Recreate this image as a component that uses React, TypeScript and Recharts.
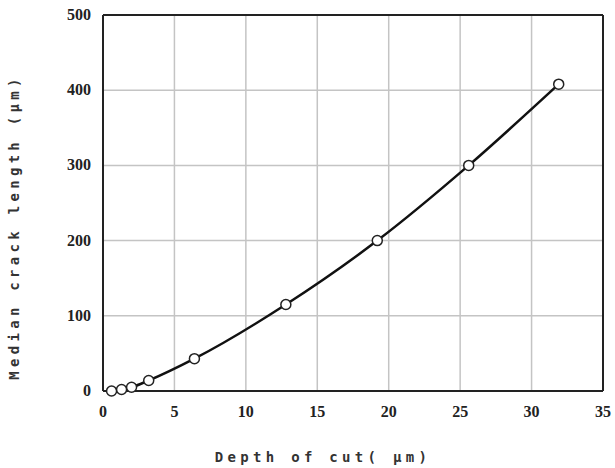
import React from "react";
import {
  LineChart,
  Line,
  XAxis,
  YAxis,
  CartesianGrid,
  ReferenceLine,
  Label,
} from "recharts";

const depthOfCut = [0.6, 1.3, 2.0, 3.2, 6.4, 12.8, 19.2, 25.6, 31.9];
const crackLength = [0, 2, 5, 14, 43, 115, 200, 300, 408];
const xTicks = [0, 5, 10, 15, 20, 25, 30, 35];
const yTicks = [0, 100, 200, 300, 400, 500];

const data = depthOfCut.map((d, i) => ({ depth: d, crack: crackLength[i] }));

const serifStyle = {
  fontFamily: "'Liberation Serif', 'Times New Roman', serif",
  fontWeight: 700,
  fontSize: 16,
  fill: "#222",
};

// eslint-disable-next-line @typescript-eslint/no-explicit-any
const renderXTick = (props: any) => (
  <text
    key={`x-${props.payload.value}`}
    x={props.x}
    y={props.y + 8}
    textAnchor="middle"
    style={serifStyle}
  >
    {props.payload.value}
  </text>
);

// eslint-disable-next-line @typescript-eslint/no-explicit-any
const renderYTick = (props: any) => (
  <text
    key={`y-${props.payload.value}`}
    x={props.x + 2}
    y={props.y + 5}
    textAnchor="end"
    style={serifStyle}
  >
    {props.payload.value}
  </text>
);

const labelStyle = {
  fontFamily: "'DejaVu Sans Mono', monospace",
  fontWeight: 700,
  fontSize: 14,
  letterSpacing: 4.3,
  fill: "#333",
};

export default function App() {
  return (
    <div style={{ position: "absolute", left: 0, top: 0, background: "#fff" }}>
      <LineChart
        width={615}
        height={468}
        data={data}
        margin={{ top: 15, right: 12, left: 0, bottom: 0 }}
      >
        <CartesianGrid stroke="#c4c4c4" strokeWidth={1.5} />
        <XAxis
          dataKey="depth"
          type="number"
          domain={[0, 35]}
          ticks={xTicks}
          height={77}
          tickLine={false}
          tickMargin={12}
          axisLine={{ stroke: "#222", strokeWidth: 2 }}
          tick={renderXTick}
        >
          <Label
            value="Depth of cut( μm)"
            position="insideBottom"
            offset={6}
            dx={-30}
            style={labelStyle}
          />
        </XAxis>
        <YAxis
          dataKey="crack"
          type="number"
          domain={[0, 500]}
          ticks={yTicks}
          width={103}
          tickLine={false}
          tickMargin={8}
          axisLine={{ stroke: "#222", strokeWidth: 2 }}
          tick={renderYTick}
        >
          <Label
            value="Median crack length (μm)"
            angle={-90}
            position="insideLeft"
            offset={14}
            dy={24}
            style={{ ...labelStyle, textAnchor: "middle" }}
          />
        </YAxis>
        <ReferenceLine y={500} stroke="#222" strokeWidth={2} />
        <ReferenceLine x={35} stroke="#222" strokeWidth={2} />
        <Line
          type="monotone"
          dataKey="crack"
          stroke="#111"
          strokeWidth={2.5}
          dot={{ r: 5, fill: "#fff", stroke: "#222", strokeWidth: 1.5 }}
          isAnimationActive={false}
        />
      </LineChart>
    </div>
  );
}
